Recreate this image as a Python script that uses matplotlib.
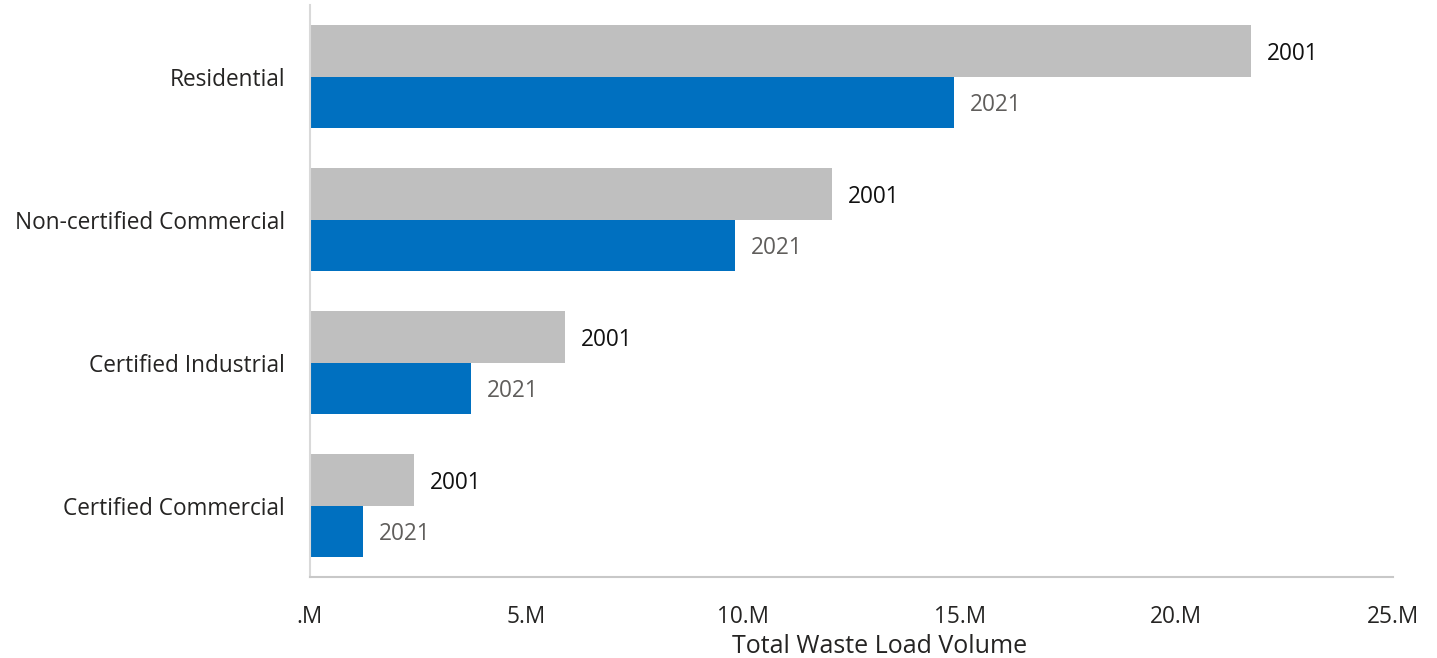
"""
Horizontal grouped bars: total waste load volume by sector, 2001 vs 2021.
"""

import matplotlib

matplotlib.use("Agg")
import matplotlib.pyplot as plt
import numpy as np

plt.rcParams.update({"font.family": ["Open Sans", "DejaVu Sans"]})

categories = [
    "Residential",
    "Non-certified Commercial",
    "Certified Industrial",
    "Certified Commercial",
]
vol_2001 = [21.72, 12.05, 5.89, 2.40]  # millions
vol_2021 = [14.87, 9.81, 3.72, 1.22]
series_names = ["2001", "2021"]
x_ticks = [0, 5, 10, 15, 20, 25]
x_tick_labels = [".M", "5.M", "10.M", "15.M", "20.M", "25.M"]

GRAY = "#BFBFBF"
BLUE = "#0070C0"
FS = 16.3


def main():
    fig = plt.figure(figsize=(14.37, 6.58), dpi=100)
    ax = fig.add_axes([0.2157, 0.1231, 0.7537, 0.8693])

    y = np.arange(len(categories))
    h = 0.357
    bars_a = ax.barh(y - h / 2, vol_2001, height=h, color=GRAY)
    bars_b = ax.barh(y + h / 2, vol_2021, height=h, color=BLUE)

    for bar, v in zip(bars_a, vol_2001):
        ax.annotate(series_names[0], (v, bar.get_y() + bar.get_height() / 2),
                    xytext=(16, -3), textcoords="offset pixels",
                    va="center", ha="left", fontsize=FS, color="#111111")
    for bar, v in zip(bars_b, vol_2021):
        ax.annotate(series_names[1], (v, bar.get_y() + bar.get_height() / 2),
                    xytext=(16, -3), textcoords="offset pixels",
                    va="center", ha="left", fontsize=FS, color="#605E5C")

    ax.set_ylim(3.5, -0.5)
    ax.set_xlim(0, 25)
    ax.set_yticks(y)
    ax.set_yticklabels(categories, fontsize=FS, color="#252423")
    ax.set_xticks(x_ticks)
    ax.set_xticklabels(x_tick_labels, fontsize=FS, color="#252423")
    ax.tick_params(length=0)
    ax.tick_params(axis="x", pad=20)
    ax.tick_params(axis="y", pad=18)

    ax.set_xlabel("Total Waste Load Volume", fontsize=18, color="#252423")
    ax.xaxis.set_label_coords(0.526, -0.1)

    for side in ("top", "right"):
        ax.spines[side].set_visible(False)
    ax.spines["left"].set_color("#D9D9D9")
    ax.spines["bottom"].set_color("#C8C8C8")
    ax.spines["left"].set_linewidth(1.5)
    ax.spines["bottom"].set_linewidth(1.5)

    fig.savefig("out.png", dpi=100)
    plt.close(fig)


if __name__ == "__main__":
    main()
